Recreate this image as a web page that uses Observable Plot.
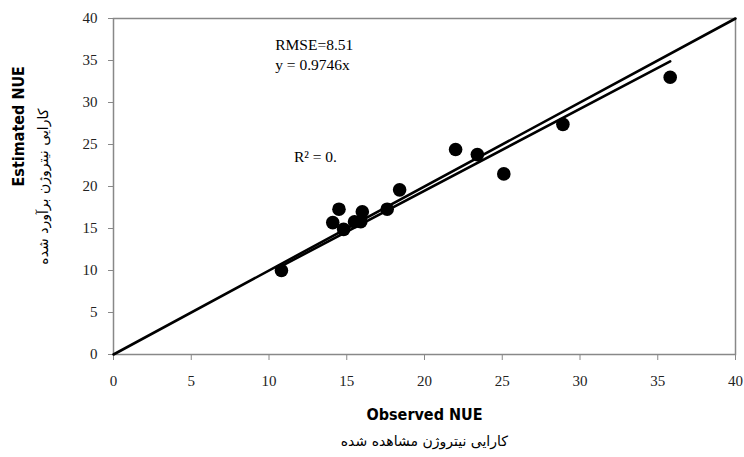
<!DOCTYPE html>
<html><head><meta charset="utf-8">
<script src="https://cdn.jsdelivr.net/npm/d3@7"></script>
<script src="https://cdn.jsdelivr.net/npm/@observablehq/plot@0.6"></script>
<style>body{margin:0;background:#fff}</style>
</head><body><div id="chart"></div>
<script>
const observed  = [10.8, 14.1, 14.5, 14.8, 15.5, 15.9, 16.0, 17.6, 18.4, 22.0, 23.4, 25.1, 28.9, 35.8];
const estimated = [10.0, 15.7, 17.3, 14.9, 15.8, 15.8, 17.0, 17.3, 19.6, 24.4, 23.8, 21.5, 27.4, 33.0];
const slope = 0.9746;
const ticks = [0, 5, 10, 15, 20, 25, 30, 35, 40];
const notes = [
  {x: 10.4, y: 36.9, text: "RMSE=8.51"},
  {x: 10.4, y: 34.5, text: "y = 0.9746x"},
  {x: 11.6, y: 23.5, text: "R² = 0."}
];
const xTitle = "Observed NUE", xTitleFa = "کارایی نیتروژن مشاهده شده";
const yTitle = "Estimated NUE", yTitleFa = "کارایی نیتروژن برآورد شده";

const pts = observed.map((x, i) => ({x, y: estimated[i]}));
const xmin = d3.min(observed), xmax = d3.max(observed);
const fit = [{x: xmin, y: slope * xmin}, {x: xmax, y: slope * xmax}];
const ident = [{x: 0, y: 0}, {x: 40, y: 40}];
const serif = "Liberation Serif, Times New Roman, serif";
const sans = "DejaVu Sans Condensed, DejaVu Sans, sans-serif";
const fa = "DejaVu Sans, sans-serif";

const chart = Plot.plot({
  width: 744, height: 457,
  marginLeft: 113, marginRight: 9, marginTop: 18, marginBottom: 103,
  style: {fontFamily: serif, fontSize: "15px", color: "#222"},
  x: {domain: [0, 40], ticks, label: null},
  y: {domain: [0, 40], ticks, label: null},
  marks: [
    Plot.frame({stroke: "#888", strokeWidth: 1.5}),
    Plot.axisX({ticks, tickSize: 6, tickPadding: 15, stroke: "#888", fontSize: 15, fontFamily: serif}),
    Plot.axisY({ticks, tickSize: 5, tickPadding: 11, stroke: "#888", fontSize: 15, fontFamily: serif}),
    Plot.line(ident, {x: "x", y: "y", stroke: "black", strokeWidth: 2.6}),
    Plot.line(fit, {x: "x", y: "y", stroke: "black", strokeWidth: 2.6}),
    Plot.dot(pts, {x: "x", y: "y", r: 6.8, fill: "black"}),
    Plot.text(notes, {x: "x", y: "y", text: "text", textAnchor: "start", fontSize: 15.5, fontFamily: serif, fill: "black"}),
    Plot.text([xTitle], {frameAnchor: "bottom", dy: 65, fontSize: 16, fontWeight: "bold", fontFamily: sans, fill: "black"}),
    Plot.text([xTitleFa], {frameAnchor: "bottom", dy: 91, fontSize: 14, fontFamily: fa, fill: "black", className: "fa"}),
    Plot.text([yTitle], {frameAnchor: "left", dx: -95, rotate: -90, fontSize: 16, fontWeight: "bold", fontFamily: sans, fill: "black"}),
    Plot.text([yTitleFa], {frameAnchor: "left", dx: -70, rotate: -90, fontSize: 14, fontFamily: fa, fill: "black", className: "fa"})
  ]
});
document.getElementById("chart").append(chart);
// Re-centre right-to-left titles: measure each in its own coordinates and shift along its baseline.
chart.querySelectorAll(".fa text").forEach(t => {
  const b = t.getBBox();
  const x0 = +(t.getAttribute("x") || 0);
  const cx = b.x + b.width / 2 - x0;
  const tr = t.getAttribute("transform") || "";
  t.setAttribute("transform", `${tr} translate(${-cx},0)`);
});
</script></body></html>
